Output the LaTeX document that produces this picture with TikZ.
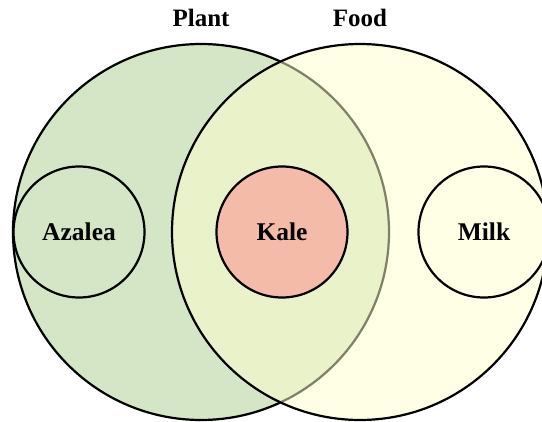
\documentclass[tikz,border=0pt]{standalone}
\usepackage{fontspec}
\setmainfont{Liberation Serif}
\definecolor{plantgreen}{HTML}{D4E6C6}
\definecolor{foodyellow}{HTML}{FFFFCC}
\definecolor{kalesalmon}{HTML}{F4BCA8}
\begin{document}
\begin{tikzpicture}[x=1pt,y=-1pt,
  setring/.style={circle,draw=black,line width=2.2pt,inner sep=0pt,minimum size=376pt},
  itemring/.style={circle,draw=black,line width=2.2pt,inner sep=0pt,minimum size=131pt,
    font=\fontsize{25.5}{30}\selectfont\bfseries},
  setlabel/.style={anchor=base,font=\fontsize{25}{30}\selectfont\bfseries}]
  \useasboundingbox (0,0) rectangle (542,422);
  \clip (0,0) rectangle (542,422);
  % the two overlapping sets
  \node[setring,fill=plantgreen] (plant) at (201,232) {};
  \node[setring,fill=foodyellow,fill opacity=0.5] (food) at (360,232) {};
  % set titles
  \node[setlabel] (plantlbl) at (201,27) {Plant};
  \node[setlabel] (foodlbl) at (360,27) {Food};
  % members
  \node[itemring] (azalea) at (79,232) {Azalea};
  \node[itemring,fill=kalesalmon] (kale) at (282,232) {Kale};
  \node[itemring] (milk) at (484,232) {Milk};
\end{tikzpicture}
\end{document}
